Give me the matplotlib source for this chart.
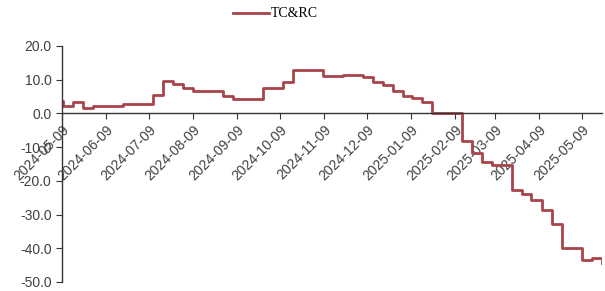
import numpy as np
import pandas as pd
from matplotlib import pyplot as plt
import matplotlib.dates as mdates

# breakpoints of the step series (weekly, value holds until the next date)
dates = ["2024-05-09", "2024-05-10", "2024-05-17", "2024-05-24", "2024-05-31",
         "2024-06-21", "2024-07-12", "2024-07-19", "2024-07-26", "2024-08-02",
         "2024-08-09", "2024-08-30", "2024-09-06", "2024-09-27", "2024-10-11",
         "2024-10-18", "2024-11-08", "2024-11-22", "2024-12-06", "2024-12-13",
         "2024-12-20", "2024-12-27", "2025-01-03", "2025-01-10", "2025-01-17",
         "2025-01-24", "2025-02-14", "2025-02-21", "2025-02-28", "2025-03-07",
         "2025-03-21", "2025-03-28", "2025-04-03", "2025-04-11", "2025-04-18",
         "2025-04-25", "2025-05-09", "2025-05-16", "2025-05-23"]
tcrc = [3.6, 2.2, 3.3, 1.5, 2.1,
        2.8, 5.5, 9.7, 8.8, 7.5,
        6.6, 5.1, 4.4, 7.6, 9.2,
        12.8, 11.0, 11.5, 10.8, 9.3,
        8.3, 6.6, 5.3, 4.6, 3.4,
        0.0, -8.3, -11.6, -14.5, -15.3,
        -22.6, -23.8, -25.8, -28.7, -32.9,
        -40.0, -43.4, -42.8, -44.5]
yticks = [20, 10, 0, -10, -20, -30, -40, -50]

d = pd.to_datetime(dates)
x = mdates.date2num(d.to_pydatetime())
tick_dates = pd.date_range("2024-05-01", "2025-05-01", freq="MS") + pd.Timedelta(days=8)
xt = mdates.date2num(tick_dates.to_pydatetime())

plt.rcParams['font.family'] = ['Liberation Sans', 'DejaVu Sans']
fig = plt.figure(figsize=(6.05, 2.91), dpi=100)
ax = fig.add_axes([0.1025, 0.031, 0.8925, 0.811])

line, = ax.plot(x, tcrc, drawstyle="steps-post", color="#A8444B", lw=2.0, label="TC&RC")

ax.spines["bottom"].set_position(("data", 0))
ax.spines["top"].set_visible(False)
ax.spines["right"].set_visible(False)
for s in ("left", "bottom"):
    ax.spines[s].set_color("#333333")
    ax.spines[s].set_linewidth(1.0)
ax.tick_params(axis="both", direction="out", length=4, color="#333333")
ax.tick_params(axis="x", pad=3)

ax.set_ylim(-50, 20)
ax.set_xlim(x[0], x[-1])
ax.set_yticks(yticks)
ax.set_yticklabels(["{:.1f}".format(v) for v in yticks], fontsize=10, color="#404040")
ax.set_xticks(xt)
ax.set_xticklabels([t.strftime("%Y-%m-%d") for t in tick_dates], fontsize=10, color="#404040",
                   rotation=45, ha="right", va="top", rotation_mode="anchor")

fig.legend(handles=[line], loc="center", bbox_to_anchor=(0.455, 0.952), frameon=False,
           prop={"family": "Liberation Serif", "size": 10}, handlelength=2.6, handletextpad=0.1)

fig.savefig("out.png", dpi=100)
